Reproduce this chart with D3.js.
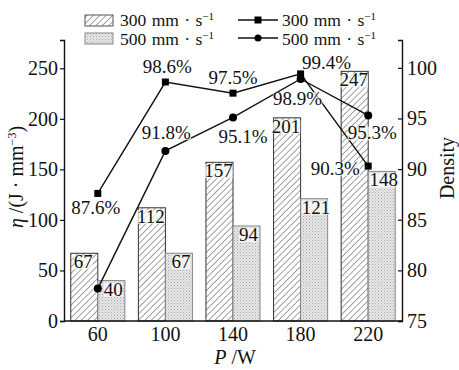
<!DOCTYPE html>
<html>
<head>
<meta charset="utf-8">
<script src="https://cdn.jsdelivr.net/npm/d3@7"></script>
<style>
  body { margin: 0; background: #fff; }
  text { font-family: "Liberation Serif", "Times New Roman", serif; fill: #111; }
</style>
</head>
<body>
<svg id="chart"></svg>
<script>
//**** DATA ****//
const powers = ['60', '100', '140', '180', '220'];
const energy300 = [67, 112, 157, 201, 247];
const energy500 = [40, 67, 94, 121, 148];
const density300 = [87.6, 98.6, 97.5, 99.4, 90.3];
const density500 = [78.2, 91.8, 95.1, 98.9, 95.3];
const label300 = ['87.6%', '98.6%', '97.5%', '99.4%', '90.3%'];
const label500 = ['', '91.8%', '95.1%', '98.9%', '95.3%'];
const leftTicks = [0, 50, 100, 150, 200, 250];
const rightTicks = [75, 80, 85, 90, 95, 100];

const width = 459,
      height = 370;
const plotLeft = 64, plotRight = 402, plotTop = 40, plotBottom = 321;
const fontSize = '19px';

const svg = d3.select('#chart')
    .attr('width', width)
    .attr('height', height);

// patterns
const defs = svg.append('defs');
const hatch = defs.append('pattern')
    .attr('id', 'hatch')
    .attr('patternUnits', 'userSpaceOnUse')
    .attr('width', 4.5).attr('height', 4.5)
    .attr('patternTransform', 'rotate(45)');
hatch.append('rect').attr('width', 4.5).attr('height', 4.5).attr('fill', '#fff');
hatch.append('line')
    .attr('x1', 0).attr('y1', 0).attr('x2', 0).attr('y2', 4.5)
    .attr('stroke', '#444').attr('stroke-width', 1);

const dots = defs.append('pattern')
    .attr('id', 'dots')
    .attr('patternUnits', 'userSpaceOnUse')
    .attr('width', 3).attr('height', 3);
dots.append('rect').attr('width', 3).attr('height', 3).attr('fill', '#e6e6e6');
dots.append('rect').attr('x', 0).attr('y', 0).attr('width', 1).attr('height', 1).attr('fill', '#aaa');
dots.append('rect').attr('x', 1.5).attr('y', 1.5).attr('width', 1).attr('height', 1).attr('fill', '#c0c0c0');

// scales
const x = d3.scaleBand().domain(powers).range([plotLeft, plotRight]).padding(0);
const yLeft = d3.scaleLinear().domain([0, 278]).range([plotBottom, plotTop]);
const yRight = d3.scaleLinear().domain([75, 102.75]).range([plotBottom, plotTop]);
const barW = x.bandwidth() * 0.4;
const cx = d => x(d) + x.bandwidth() / 2;

// bars
const groups = svg.append('g').selectAll('g')
    .data(powers)
    .enter()
    .append('g');

groups.append('rect')
    .attr('x', d => cx(d) - barW)
    .attr('y', (d, i) => yLeft(energy300[i]))
    .attr('width', barW)
    .attr('height', (d, i) => plotBottom - yLeft(energy300[i]))
    .attr('fill', 'url(#hatch)')
    .attr('stroke', '#333').attr('stroke-width', 1);

groups.append('rect')
    .attr('x', d => cx(d))
    .attr('y', (d, i) => yLeft(energy500[i]))
    .attr('width', barW)
    .attr('height', (d, i) => plotBottom - yLeft(energy500[i]))
    .attr('fill', 'url(#dots)')
    .attr('stroke', '#888').attr('stroke-width', 1);

// value labels with a light box behind
function boxedText(g, tx, ty, str) {
  const t = g.append('text')
      .attr('x', tx).attr('y', ty)
      .attr('text-anchor', 'middle')
      .style('font-size', fontSize)
      .text(str);
  const b = t.node().getBBox();
  g.insert('rect', () => t.node())
      .attr('x', b.x).attr('y', b.y + 4)
      .attr('width', b.width).attr('height', b.height - 7)
      .attr('fill', '#fff').attr('opacity', 0.7);
}

const labelsG = svg.append('g');
powers.forEach((p, i) => {
  boxedText(labelsG, cx(p) - barW / 2 - 1, yLeft(energy300[i]) + 15, energy300[i]);
  boxedText(labelsG, cx(p) + barW / 2 + 2, yLeft(energy500[i]) + 15, energy500[i]);
});

// axes
const axisG = svg.append('g');
axisG.append('line')
    .attr('x1', plotLeft).attr('x2', plotRight).attr('y1', plotBottom).attr('y2', plotBottom)
    .attr('stroke', '#111').attr('stroke-width', 1.4);

const leftAxis = axisG.append('g')
    .attr('transform', 'translate(' + plotLeft + ',0)')
    .call(d3.axisLeft(yLeft).tickValues(leftTicks).tickSize(4).tickPadding(2));
const rightAxis = axisG.append('g')
    .attr('transform', 'translate(' + plotRight + ',0)')
    .call(d3.axisRight(yRight).tickValues(rightTicks).tickSize(-4).tickPadding(5));
const bottomAxis = axisG.append('g')
    .attr('transform', 'translate(0,' + plotBottom + ')')
    .call(d3.axisBottom(x).tickSize(0).tickPadding(6));

[leftAxis, rightAxis, bottomAxis].forEach(a => {
  a.select('.domain').attr('stroke', '#111').attr('stroke-width', 1.4);
  a.selectAll('.tick line').attr('stroke', '#111').attr('stroke-width', 1.2);
  a.selectAll('.tick text')
      .style('font-family', '"Liberation Serif", serif')
      .style('font-size', '20px')
      .attr('fill', '#111');
});
bottomAxis.select('.domain').remove();

// density lines
const densLine = d3.line()
    .x((d, i) => cx(powers[i]))
    .y(d => yRight(d));

svg.append('path')
    .datum(density300)
    .attr('d', densLine)
    .attr('fill', 'none').attr('stroke', '#111').attr('stroke-width', 1.4);
svg.append('path')
    .datum(density500)
    .attr('d', densLine)
    .attr('fill', 'none').attr('stroke', '#111').attr('stroke-width', 1.4);

svg.append('g').selectAll('rect')
    .data(density300)
    .enter()
    .append('rect')
    .attr('x', (d, i) => cx(powers[i]) - 3.5)
    .attr('y', d => yRight(d) - 3.5)
    .attr('width', 7).attr('height', 7)
    .attr('fill', '#000');

svg.append('g').selectAll('circle')
    .data(density500)
    .enter()
    .append('circle')
    .attr('cx', (d, i) => cx(powers[i]))
    .attr('cy', d => yRight(d))
    .attr('r', 4)
    .attr('fill', '#000');

// density labels: offsets [dx, dy] relative to the marker
const off300 = [[-2, 21], [2, -9], [0, -9], [26, -5], [-33, 9]];
const off500 = [[0, 0], [1, -12], [10, 26], [-3, 26], [4, 24]];
const densG = svg.append('g');
powers.forEach((p, i) => {
  boxedText(densG, cx(p) + off300[i][0], yRight(density300[i]) + off300[i][1], label300[i]);
  if (label500[i]) {
    boxedText(densG, cx(p) + off500[i][0], yRight(density500[i]) + off500[i][1], label500[i]);
  }
});

// axis titles
const yTitle = svg.append('text')
    .attr('transform', 'translate(23,177) rotate(-90)')
    .attr('text-anchor', 'middle')
    .style('font-size', '20px');
yTitle.append('tspan').style('font-style', 'italic').text('η');
yTitle.append('tspan').text(' /(J · mm');
yTitle.append('tspan').attr('dy', -7).style('font-size', '12px').text('−3');
yTitle.append('tspan').attr('dy', 7).text(')');

svg.append('text')
    .attr('transform', 'translate(454,168) rotate(-90)')
    .attr('text-anchor', 'middle')
    .style('font-size', '20px')
    .text('Density');

const xTitle = svg.append('text')
    .attr('x', 235).attr('y', 364)
    .attr('text-anchor', 'middle')
    .style('font-size', '20px');
xTitle.append('tspan').style('font-style', 'italic').text('P');
xTitle.append('tspan').text(' /W');

// legend
const legend = svg.append('g');
function speedLabel(tx, ty, speed) {
  const t = legend.append('text').attr('x', tx).attr('y', ty)
      .style('font-size', '17.5px').style('word-spacing', '1px');
  t.append('tspan').text(speed + ' mm · s');
  t.append('tspan').attr('dy', -6).style('font-size', '11px').text('−1');
}
legend.append('rect').attr('x', 85).attr('y', 15).attr('width', 28).attr('height', 11)
    .attr('fill', 'url(#hatch)').attr('stroke', '#555');
legend.append('rect').attr('x', 85).attr('y', 33).attr('width', 28).attr('height', 11)
    .attr('fill', 'url(#dots)').attr('stroke', '#888');
speedLabel(120, 26, '300');
speedLabel(120, 45, '500');

legend.append('line').attr('x1', 238).attr('x2', 278).attr('y1', 20).attr('y2', 20)
    .attr('stroke', '#111').attr('stroke-width', 1.4);
legend.append('rect').attr('x', 254.5).attr('y', 16.5).attr('width', 7).attr('height', 7).attr('fill', '#000');
legend.append('line').attr('x1', 238).attr('x2', 278).attr('y1', 38).attr('y2', 38)
    .attr('stroke', '#111').attr('stroke-width', 1.4);
legend.append('circle').attr('cx', 258).attr('cy', 38).attr('r', 3.5).attr('fill', '#000');
speedLabel(282, 26, '300');
speedLabel(282, 45, '500');
</script>
</body>
</html>
